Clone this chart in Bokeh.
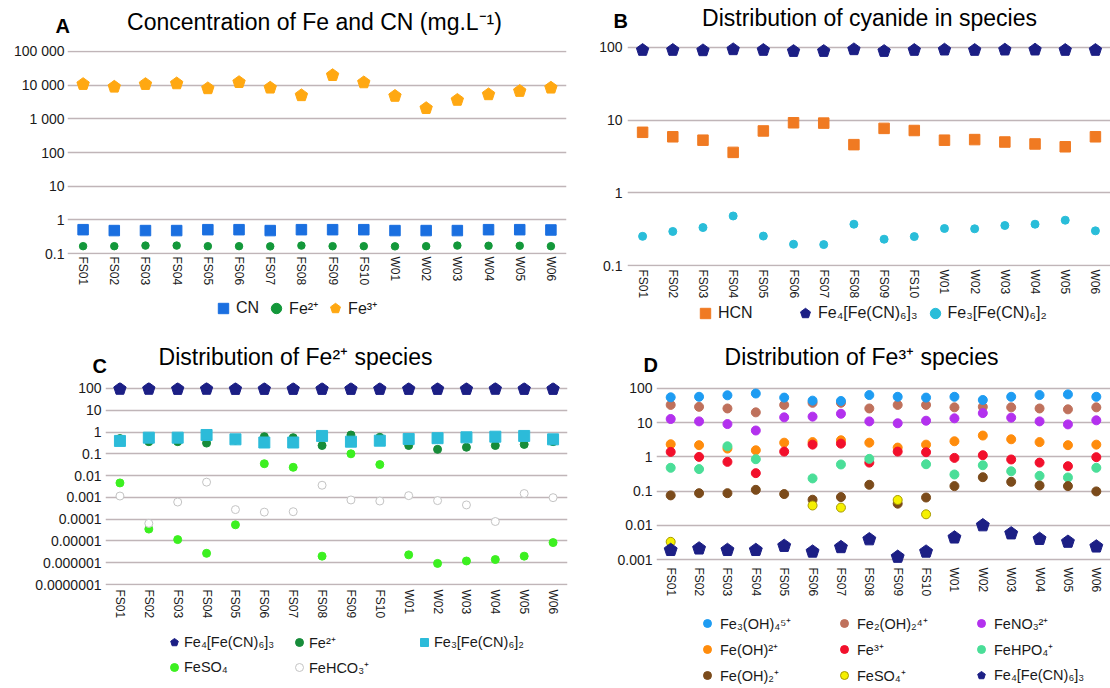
import math
from bokeh.plotting import figure
from bokeh.models import (FactorRange, Range1d, FixedTicker, Legend, LegendItem,
                          Label, ColumnDataSource)
from bokeh.layouts import row, column
from bokeh.embed import file_html
from bokeh.resources import INLINE

NAN = float("nan")
FONT = "Liberation Sans"

# ---------------- data ----------------
sites = ["FS01", "FS02", "FS03", "FS04", "FS05", "FS06", "FS07", "FS08", "FS09",
         "FS10", "W01", "W02", "W03", "W04", "W05", "W06"]

# Panel A : concentration (mg/L)
a_cn = [0.51, 0.48, 0.48, 0.48, 0.51, 0.51, 0.48, 0.51, 0.51, 0.51, 0.48, 0.48, 0.48, 0.51, 0.51, 0.50]
a_fe2 = [0.165, 0.165, 0.172, 0.172, 0.165, 0.165, 0.163, 0.172, 0.165, 0.165, 0.163, 0.165, 0.172, 0.170, 0.170, 0.165]
a_fe3 = [10700, 8900, 10700, 11200, 8000, 12200, 8350, 4970, 19700, 12000, 4750, 2060, 3620, 5300, 6660, 8350]
a_ticks = [0.1, 1.0, 10.0, 100.0, 1000.0, 10000.0, 100000.0]
a_tick_labels = ["0.1", "1", "10", "100", "1 000", "10 000", "100 000"]

# Panel B : distribution of cyanide in species (%)
b_fe4cn = [92, 92, 91, 94, 92, 89, 89, 94, 89, 92, 93, 92, 93, 93, 92, 92]
b_hcn = [6.8, 5.9, 5.3, 3.6, 7.1, 9.2, 9.1, 4.6, 7.7, 7.2, 5.3, 5.4, 5.0, 4.7, 4.3, 5.9]
b_fe3cn = [0.252, 0.294, 0.333, 0.48, 0.254, 0.196, 0.194, 0.37, 0.23, 0.25, 0.323, 0.32, 0.355, 0.37, 0.42, 0.30]
b_ticks = [0.1, 1.0, 10.0, 100.0]
b_tick_labels = ["0.1", "1", "10", "100"]

# Panel C : distribution of Fe2+ species (%)
c_fe4cn = [94, 94, 93, 94, 93, 93, 93, 93, 93, 93, 93, 93, 93, 94, 93, 93]
c_fe2 = [0.5, 0.36, 0.36, 0.31, 0.42, 0.61, 0.55, 0.24, 0.73, 0.57, 0.24, 0.16, 0.2, 0.24, 0.27, 0.36]
c_fe3cn = [0.39, 0.55, 0.55, 0.73, 0.46, 0.33, 0.33, 0.66, 0.36, 0.40, 0.48, 0.52, 0.57, 0.61, 0.66, 0.46]
c_feso4 = [4.6e-3, 3.5e-5, 1.15e-5, 2.7e-6, 5.5e-5, 0.035, 0.024, 2.0e-6, 0.10, 0.032,
           2.3e-6, 0.93e-6, 1.2e-6, 1.4e-6, 2.0e-6, 8.4e-6]
c_fehco3 = [1.15e-3, 6.4e-5, 6.1e-4, 5.0e-3, 2.75e-4, 2.1e-4, 2.2e-4, 3.6e-3, 7.6e-4, 6.8e-4,
            1.2e-3, 7.1e-4, 4.5e-4, 7.8e-5, 1.5e-3, 9.7e-4]
c_ticks = [1e-7, 1e-6, 1e-5, 1e-4, 1e-3, 1e-2, 0.1, 1.0, 10.0, 100.0]
c_tick_labels = ["0.0000001", "0.000001", "0.00001", "0.0001", "0.001", "0.01", "0.1", "1", "10", "100"]

# Panel D : distribution of Fe3+ species (%)
d_fe3oh4 = [55, 57, 63, 71, 54, 44, 43, 64, 57, 54, 57, 46, 57, 64, 67, 57]
d_fe2oh2 = [33, 29, 26, 20, 33, 38, 38, 26, 33, 33, 28, 29, 28, 26, 24.5, 28]
d_feno3 = [12.8, 10.9, 9.1, 5.9, 14.3, 15, 18.2, 10.9, 9.6, 11.4, 13.4, 19, 14, 10.9, 8.9, 11.7]
d_feoh = [2.34, 2.2, 1.75, 1.56, 2.6, 2.7, 3.06, 2.6, 1.87, 2.28, 2.86, 4.2, 3.27, 2.7, 2.2, 2.28]
d_fe3 = [1.4, 1.0, 0.715, 0.335, 1.43, 2.28, 2.44, 0.68, 1.43, 1.37, 0.935, 1.12, 0.84, 0.68, 0.535, 0.98]
d_fehpo4 = [0.48, 0.44, 2.04, 0.855, NAN, 0.235, 0.6, 0.875, NAN, 0.61, 0.306, 0.57, 0.38, 0.28, 0.25, 0.48]
d_feoh2 = [0.075, 0.087, 0.087, 0.109, 0.082, 0.056, 0.067, 0.153, 0.043, 0.065, 0.14, 0.255, 0.187, 0.146, 0.14, 0.098]
d_feso4 = [0.0033, NAN, NAN, NAN, NAN, 0.038, 0.033, NAN, 0.055, 0.021, NAN, NAN, NAN, NAN, NAN, NAN]
d_fe4cn = [0.0019, 0.0021, 0.0019, 0.0019, 0.0025, 0.0017, 0.0023, 0.0039, 0.0012, 0.0017,
           0.0044, 0.010, 0.0058, 0.0040, 0.0033, 0.0024]
d_ticks = [0.001, 0.01, 0.1, 1.0, 10.0, 100.0]
d_tick_labels = ["0.001", "0.01", "0.1", "1", "10", "100"]

GRID = "#c0b5b8"
TXT = "#1a1a1a"
NAVY = "#1c1f85"


def blank(width, height, x_range=None, y_range=None):
    f = figure(width=width, height=height,
               x_range=x_range if x_range is not None else Range1d(0, 1),
               y_range=y_range if y_range is not None else Range1d(0, 1),
               x_axis_type=None, y_axis_type=None, toolbar_location=None,
               output_backend="svg", min_border=0, frame_align=False)
    f.outline_line_color = None
    return f


def header(width, height, letter, letter_x, letter_y, title, title_cx, title_y):
    h = blank(width, height)
    h.add_layout(Label(x=letter_x, y=letter_y, x_units="screen", y_units="screen", text=letter,
                       text_font=FONT, text_font_size="20px", text_font_style="bold",
                       text_color="black", text_align="left", text_baseline="middle"))
    h.add_layout(Label(x=title_cx, y=title_y, x_units="screen", y_units="screen", text=title,
                       text_font=FONT, text_font_size="23px", text_color="black",
                       text_align="center", text_baseline="middle"))
    return h


def make_panel(width, height, left, right, top_tick, bottom_tick, pad_top, pad_bottom,
               ticks, labels, x_standoff, y_standoff):
    lo, hi = ticks[0], ticks[-1]
    dec_px = (bottom_tick - top_tick) / math.log10(hi / lo)
    y0 = lo / 10 ** (pad_bottom / dec_px)
    y1 = hi * 10 ** (pad_top / dec_px)
    ftop = top_tick - pad_top
    fbot = bottom_tick + pad_bottom
    p = figure(width=width, height=height, x_range=FactorRange(factors=sites),
               y_range=Range1d(y0, y1), y_axis_type="log", title=None,
               output_backend="svg", toolbar_location=None, frame_align=False,
               min_border_left=left, min_border_right=right,
               min_border_top=ftop, min_border_bottom=height - fbot)
    p.outline_line_color = None
    p.background_fill_color = "white"
    tk = FixedTicker(ticks=ticks, minor_ticks=[])
    p.yaxis.ticker = tk
    p.ygrid.ticker = tk
    p.yaxis.major_label_overrides = dict(zip(ticks, labels))
    for ax in (p.xaxis, p.yaxis):
        ax.axis_line_color = None
        ax.major_tick_line_color = None
        ax.minor_tick_line_color = None
        ax.major_tick_out = 0
        ax.major_tick_in = 0
        ax.major_label_text_font = FONT
        ax.major_label_text_color = TXT
    p.yaxis.major_label_text_font_size = "14px"
    p.yaxis.major_label_standoff = y_standoff
    p.xaxis.major_label_text_font_size = "12px"
    p.xaxis.major_label_orientation = "vertical"
    p.xaxis.major_label_standoff = x_standoff
    p.xgrid.grid_line_color = None
    p.ygrid.grid_line_color = GRID
    p.ygrid.grid_line_width = 1.6
    return p


def plot_series(fig, kind, source, col, size, style):
    if kind == "pentagon":
        return fig.ngon("site", col, source=source, radius=size / 2.0, radius_units="screen",
                        n=5, angle=0.0, **style)
    return fig.scatter("site", col, source=source, marker=kind, size=size, **style)


def footer(width, height, entries, loc, size, ncols, gw, gh, standoff, spacing, label_width):
    # legend strip: the same series are attached here, out of the strip's value range,
    # so only the legend swatches show
    f = blank(width, height, x_range=FactorRange(factors=sites), y_range=Range1d(-2, -1))
    items = []
    for label, kind, source, col, msize, style in entries:
        r = plot_series(f, kind, source, col, msize, style)
        items.append(LegendItem(label=label, renderers=[r]))
    kw = {} if ncols is None else {"ncols": ncols}
    lg = Legend(items=items, location=loc, orientation="horizontal",
                label_text_font=FONT, label_text_font_size=size, label_text_color=TXT,
                glyph_width=gw, glyph_height=gh, label_height=gh, label_standoff=standoff,
                spacing=spacing, padding=0, margin=0, label_width=label_width,
                border_line_color=None, background_fill_alpha=0, **kw)
    f.add_layout(lg)
    return f


def sty(color, line=None, width=1):
    return dict(fill_color=color, line_color=line or color, line_width=width)


# colours
C_CN, C_FE2A, C_FE3A = "#1a6fe0", "#13983a", "#ffa812"
C_HCN, C_CYAN = "#f07a22", "#29bdd9"
C_FE2C, C_SQC, C_LIME = "#178c3a", "#2cbbd9", "#3cf020"
D_COLS = ["#1e9cf2", "#bf715c", "#b331ee", "#ff8c0c", "#f2102c", "#4ade98", "#7b4b1b", "#f5f000"]

# ---------------- Panel A ----------------
ha = header(570, 37, "A", 55, 11.9, "Concentration of Fe and CN (mg.L⁻¹)", 314, 15.7)
pa = make_panel(570, 251, 67, 4, 14, 218, 1, 1, a_ticks, a_tick_labels, 2, 3)
sa = ColumnDataSource(dict(site=sites, cn=a_cn, fe2=a_fe2, fe3=a_fe3))
a_entries = [("CN", "square", sa, "cn", 10.5, sty(C_CN)),
             ("Fe²⁺", "circle", sa, "fe2", 7.5, sty(C_FE2A)),
             ("Fe³⁺", "pentagon", sa, "fe3", 13, sty(C_FE3A))]
for _, kind, src, col, msize, st in a_entries:
    plot_series(pa, kind, src, col, msize, st)
fa = footer(570, 52, a_entries, (210, 19), "16px", None, 26, 26, -4, 4, 0)

# ---------------- Panel B ----------------
hb = header(540, 37, "B", 43, 16.9, "Distribution of cyanide in species", 299, 20)
pb = make_panel(540, 264, 57, 0, 10, 230, 6, 1, b_ticks, b_tick_labels, 3, 5)
sb = ColumnDataSource(dict(site=sites, fe4=b_fe4cn, hcn=b_hcn, fe3=b_fe3cn))
b_entries = [("HCN", "square", sb, "hcn", 10.5, sty(C_HCN)),
             ("Fe₄[Fe(CN)₆]₃", "pentagon", sb, "fe4", 13, sty(NAVY)),
             ("Fe₃[Fe(CN)₆]₂", "circle", sb, "fe3", 8, sty(C_CYAN))]
for _, kind, src, col, msize, st in b_entries:
    plot_series(pb, kind, src, col, msize, st)
fb = footer(540, 39, b_entries, (122, 14), "16px", None, 26, 26, -4, 4, 70)

# ---------------- Panel C ----------------
hc = header(570, 36, "C", 92, 10.9, "Distribution of Fe²⁺ species", 295, 20)
pc = make_panel(570, 245, 105, 3, 12, 210, 6, 1, c_ticks, c_tick_labels, 4, 4)
sc = ColumnDataSource(dict(site=sites, fe4=c_fe4cn, fe2=c_fe2, fe3=c_fe3cn,
                           feso4=c_feso4, fehco3=c_fehco3))
c_entries = [("Fe₄[Fe(CN)₆]₃", "pentagon", sc, "fe4", 13, sty(NAVY)),
             ("Fe²⁺", "circle", sc, "fe2", 8, sty(C_FE2C)),
             ("Fe₃[Fe(CN)₆]₂", "square", sc, "fe3", 11, sty(C_SQC)),
             ("FeSO₄", "circle", sc, "feso4", 8, sty(C_LIME)),
             ("FeHCO₃⁺", "circle", sc, "fehco3", 8, sty("white", "#c4c4c4"))]
for _, kind, src, col, msize, st in c_entries:
    plot_series(pc, kind, src, col, msize, st)
fc = footer(570, 67, c_entries, (164, 11), "14.5px", 3, 20, 20, 0, 5, 100)

# ---------------- Panel D ----------------
hd = header(540, 36, "D", 73, 11.9, "Distribution of Fe³⁺ species", 291, 20)
pd_ = make_panel(540, 223, 86, 0, 12, 185, 6, 6, d_ticks, d_tick_labels, 2, 4)
sd = ColumnDataSource(dict(site=sites, fe3oh4=d_fe3oh4, fe2oh2=d_fe2oh2, feno3=d_feno3,
                           feoh=d_feoh, fe3=d_fe3, fehpo4=d_fehpo4, feoh2=d_feoh2,
                           feso4=d_feso4, fe4=d_fe4cn))
d_series = ["fe3oh4", "fe2oh2", "feno3", "feoh", "fe3", "fehpo4", "feoh2", "feso4"]
d_labels = ["Fe₃(OH)₄⁵⁺", "Fe₂(OH)₂⁴⁺", "FeNO₃²⁺", "Fe(OH)²⁺", "Fe³⁺", "FeHPO₄⁺", "Fe(OH)₂⁺", "FeSO₄⁺"]
d_lines = {"feso4": "#a89a00"}
d_entries = [(lab, "circle", sd, d_series[i], 9, sty(D_COLS[i], d_lines.get(d_series[i])))
             for i, lab in enumerate(d_labels)]
d_entries.append(("Fe₄[Fe(CN)₆]₃", "pentagon", sd, "fe4", 13.6, sty(NAVY)))
d_draw_order = ["fe2oh2", "fe3oh4", "feno3", "feoh", "fe3", "fehpo4", "feoh2", "feso4", "fe4"]
for col in d_draw_order:
    _, kind, src, c, msize, st = next(e for e in d_entries if e[3] == col)
    plot_series(pd_, kind, src, c, msize, st)
fd = footer(540, 89, d_entries, (127, 3), "14.5px", 3, 20, 20, 3, 6, 108)

top = row(column(ha, pa, fa, spacing=0), column(hb, pb, fb, spacing=0), spacing=0)
bottom = row(column(hc, pc, fc, spacing=0), column(hd, pd_, fd, spacing=0), spacing=0)
page = column(top, bottom, spacing=0)
open("out.html", "w").write(file_html(page, INLINE))
